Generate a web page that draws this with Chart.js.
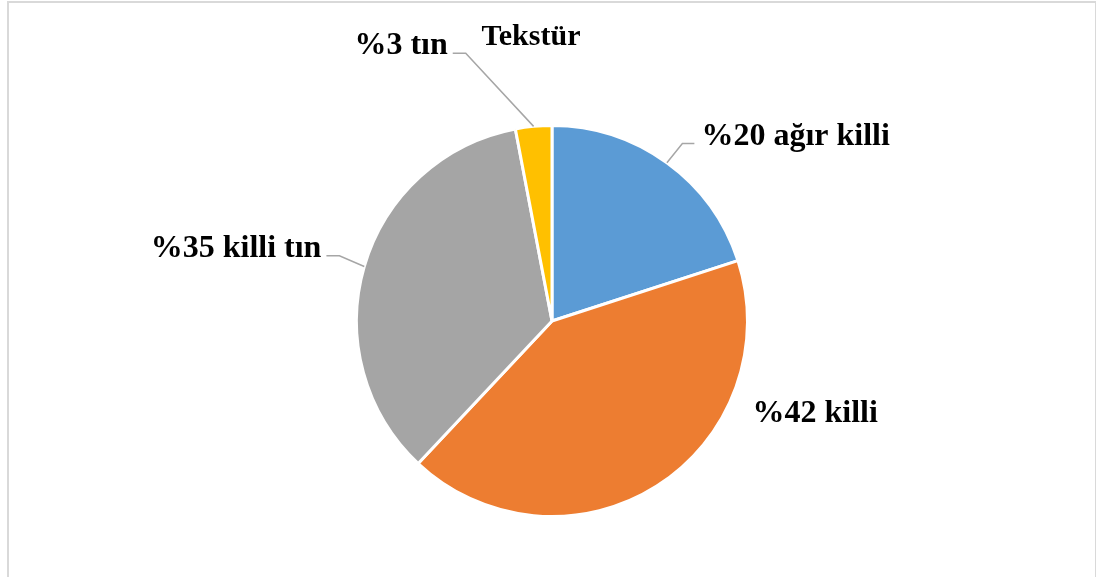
<!DOCTYPE html>
<html>
<head>
<meta charset="utf-8">
<script src="https://cdn.jsdelivr.net/npm/chart.js@4/dist/chart.umd.min.js"></script>
<style>
  html, body { margin: 0; padding: 0; background: #fff; }
  .frame { position: absolute; left: 7px; top: 1px; width: 1086px; height: 600px; border: 2px solid #d9d9d9; border-bottom: none; }
  .wrap { position: absolute; left: 0; top: 0; width: 1096px; height: 577px; }
</style>
</head>
<body>
<div class="frame"></div>
<div class="wrap"><canvas id="pie"></canvas></div>
<script>
const chartTitle = 'Tekstür';
const categories = ['ağır killi', 'killi', 'killi tın', 'tın'];
const shares = [20, 42, 35, 3];
const colors = ['#5B9BD5', '#ED7D31', '#A5A5A5', '#FFC000'];

// where each label sits, relative to the pie centre (px at r = 195)
const labelOffset = [[149, -176], [200, 101], [-230, -64], [-104, -266]];
const labelAlign = ['left', 'left', 'right', 'right'];
const hasLeader = [true, false, true, true];

const LABEL_FONT = 'bold 32px "Liberation Serif", "Times New Roman", serif';
const TITLE_FONT = 'bold 30px "Liberation Serif", "Times New Roman", serif';

const sliceLabels = {
  id: 'sliceLabels',
  afterDatasetsDraw(chart) {
    const ctx = chart.ctx;
    const arcs = chart.getDatasetMeta(0).data;
    ctx.save();
    arcs.forEach((arc, i) => {
      const p = arc.getProps(['x', 'y', 'startAngle', 'endAngle', 'outerRadius'], true);
      const mid = (p.startAngle + p.endAngle) / 2;
      const k = p.outerRadius / 195;
      const tx = p.x + labelOffset[i][0] * k;
      const ty = p.y + labelOffset[i][1] * k;

      if (hasLeader[i]) {
        const ex = p.x + Math.cos(mid) * p.outerRadius;
        const ey = p.y + Math.sin(mid) * p.outerRadius;
        const left = labelAlign[i] === 'left';
        const elbowX = left ? tx - 19 : tx + 18;
        const endX = left ? tx - 7 : tx + 5;
        ctx.strokeStyle = '#a6a6a6';
        ctx.lineWidth = 1.5;
        ctx.beginPath();
        ctx.moveTo(ex, ey);
        ctx.lineTo(elbowX, ty - 1);
        ctx.lineTo(endX, ty - 1);
        ctx.stroke();
      }

      ctx.fillStyle = '#000';
      ctx.font = LABEL_FONT;
      ctx.textAlign = labelAlign[i];
      ctx.textBaseline = 'alphabetic';
      ctx.fillText('%' + shares[i] + ' ' + categories[i], tx, ty);
    });

    // title, a little left of the pie centre as in the original
    const a = chart.chartArea;
    ctx.font = TITLE_FONT;
    ctx.textAlign = 'center';
    ctx.fillStyle = '#000';
    ctx.fillText(chartTitle, (a.left + a.right) / 2 - 21, 45);
    ctx.restore();
  }
};

new Chart(document.getElementById('pie'), {
  type: 'pie',
  data: {
    labels: categories,
    datasets: [{
      data: shares,
      backgroundColor: colors,
      borderColor: '#ffffff',
      borderWidth: 3
    }]
  },
  options: {
    responsive: true,
    maintainAspectRatio: false,
    animation: false,
    layout: { padding: { top: 124, bottom: 59, left: 355, right: 347 } },
    plugins: {
      legend: { display: false },
      tooltip: { enabled: false },
      title: { display: false }
    }
  },
  plugins: [sliceLabels]
});
</script>
</body>
</html>
